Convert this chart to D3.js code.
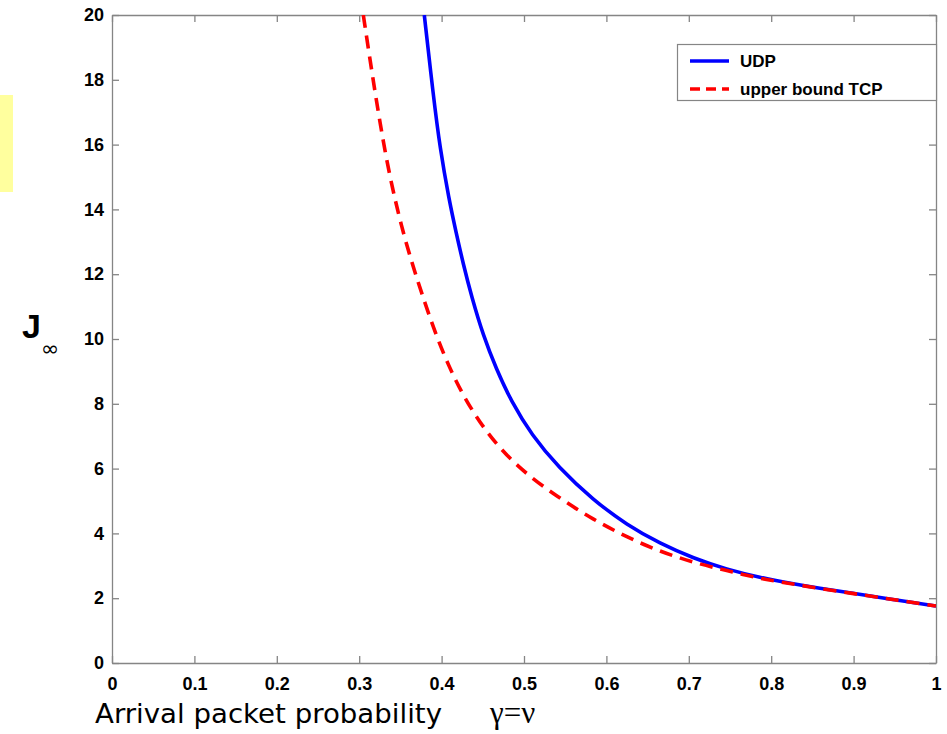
<!DOCTYPE html>
<html>
<head>
<meta charset="utf-8">
<script src="https://cdn.jsdelivr.net/npm/d3@7"></script>
<style>
  html, body { margin: 0; padding: 0; background: #fff; }
  svg { display: block; }
</style>
</head>
<body>
<svg id="chart" width="947" height="734"></svg>
<script>
// Arrival probability (gamma = nu) and the resulting cost J_inf
const udpGamma = [0.379, 0.390, 0.398, 0.409, 0.4175, 0.4264, 0.4365, 0.4506, 0.466, 0.485, 0.509, 0.542, 0.584, 0.625, 0.665, 0.706, 0.746, 0.786, 0.827, 0.857, 0.9, 0.95, 1.0];
const udpJ     = [20, 17.5, 15.9, 14.3, 13.3, 12.3, 11.3, 10.1, 9.1, 8.05, 7.05, 6.03, 5.03, 4.26, 3.69, 3.23, 2.89, 2.64, 2.44, 2.31, 2.15, 1.95, 1.76];

const tcpGamma = [0.305, 0.315, 0.325, 0.337, 0.352, 0.364, 0.376, 0.392, 0.408, 0.426, 0.453, 0.491, 0.542, 0.584, 0.625, 0.665, 0.706, 0.746, 0.786, 0.827, 0.9, 0.95, 1.0];
const tcpJ     = [20, 18.3, 16.7, 15.0, 13.4, 12.35, 11.4, 10.2, 9.2, 8.25, 7.15, 6.05, 5.1, 4.43, 3.88, 3.44, 3.10, 2.85, 2.61, 2.43, 2.14, 1.95, 1.76];

const xTicks = [0, 0.1, 0.2, 0.3, 0.4, 0.5, 0.6, 0.7, 0.8, 0.9, 1];
const xTickLabels = ["0", "0.1", "0.2", "0.3", "0.4", "0.5", "0.6", "0.7", "0.8", "0.9", "1"];
const yTicks = [0, 2, 4, 6, 8, 10, 12, 14, 16, 18, 20];

const seriesNames = ["UDP", "upper bound TCP"];

const svg = d3.select("#chart");
const plotLeft = 112, plotRight = 936, plotTop = 15, plotBottom = 663;

const x = d3.scaleLinear().domain([0, 1]).range([plotLeft, plotRight]);
const y = d3.scaleLinear().domain([0, 20]).range([plotBottom, plotTop]);

const axisColor = "#858585";

// small highlight strip at the left edge
svg.append("rect")
  .attr("x", 0).attr("y", 95).attr("width", 13).attr("height", 97)
  .attr("fill", "#ffff9e");

// clip for curves
svg.append("clipPath").attr("id", "plotclip")
  .append("rect").attr("x", plotLeft).attr("y", plotTop)
  .attr("width", plotRight - plotLeft).attr("height", plotBottom - plotTop);

// axes on all four sides, ticks pointing inward
const tickLen = 7;
const axStyle = g => {
  g.select(".domain").attr("stroke", axisColor).attr("stroke-width", 1.3);
  g.selectAll(".tick line").attr("stroke", axisColor).attr("stroke-width", 1.3);
};

svg.append("g").attr("transform", `translate(0,${plotBottom})`)
  .call(d3.axisBottom(x).tickValues(xTicks).tickSizeInner(-tickLen).tickSizeOuter(0)
    .tickFormat((d, i) => xTickLabels[i]).tickPadding(14))
  .call(axStyle)
  .call(g => g.selectAll(".tick text")
    .attr("font-family", "Liberation Sans, Arial, sans-serif")
    .attr("font-weight", "bold").attr("font-size", 18).attr("fill", "#000"));

svg.append("g").attr("transform", `translate(0,${plotTop})`)
  .call(d3.axisTop(x).tickValues(xTicks).tickSizeInner(-tickLen).tickSizeOuter(0).tickFormat(""))
  .call(axStyle);

svg.append("g").attr("transform", `translate(${plotLeft},0)`)
  .call(d3.axisLeft(y).tickValues(yTicks).tickSizeInner(-tickLen).tickSizeOuter(0).tickPadding(8))
  .call(axStyle)
  .call(g => g.selectAll(".tick text")
    .attr("font-family", "Liberation Sans, Arial, sans-serif")
    .attr("font-weight", "bold").attr("font-size", 18).attr("fill", "#000"));

svg.append("g").attr("transform", `translate(${plotRight},0)`)
  .call(d3.axisRight(y).tickValues(yTicks).tickSizeInner(-tickLen).tickSizeOuter(0).tickFormat(""))
  .call(axStyle);

// curves
const line = d3.line().curve(d3.curveBasis)
  .x(d => x(d[0])).y(d => y(d[1]));

const plot = svg.append("g").attr("clip-path", "url(#plotclip)");

plot.append("path")
  .datum(udpGamma.map((g, i) => [g, udpJ[i]]))
  .attr("d", line)
  .attr("fill", "none").attr("stroke", "#0000ff").attr("stroke-width", 3.6);

plot.append("path")
  .datum(tcpGamma.map((g, i) => [g, tcpJ[i]]))
  .attr("d", line)
  .attr("fill", "none").attr("stroke", "#ff0000").attr("stroke-width", 3.6)
  .attr("stroke-dasharray", "13,8");

// legend
const lg = svg.append("g");
lg.append("rect")
  .attr("x", 677.5).attr("y", 44.5).attr("width", 259).attr("height", 56)
  .attr("fill", "#fff").attr("stroke", axisColor).attr("stroke-width", 1.2);
const legendRows = [
  { name: seriesNames[0], color: "#0000ff", dash: null, yy: 61 },
  { name: seriesNames[1], color: "#ff0000", dash: "10,6", yy: 89 }
];
legendRows.forEach(r => {
  lg.append("line")
    .attr("x1", 690).attr("x2", 729).attr("y1", r.yy).attr("y2", r.yy)
    .attr("stroke", r.color).attr("stroke-width", 3.6)
    .attr("stroke-dasharray", r.dash);
  lg.append("text")
    .attr("x", 740).attr("y", r.yy + 6)
    .attr("font-family", "Liberation Sans, Arial, sans-serif")
    .attr("font-weight", "bold").attr("font-size", 17)
    .text(r.name);
});

// axis titles
svg.append("text")
  .attr("x", 95).attr("y", 723)
  .attr("font-family", "DejaVu Sans, sans-serif").attr("font-size", 27)
  .attr("textLength", 347).attr("lengthAdjust", "spacingAndGlyphs")
  .text("Arrival packet probability");

svg.append("text")
  .attr("x", 490).attr("y", 723)
  .attr("font-family", "Liberation Serif, serif").attr("font-size", 31)
  .text("γ=ν");

svg.append("text")
  .attr("x", 22).attr("y", 338)
  .attr("font-family", "Liberation Sans, Arial, sans-serif")
  .attr("font-weight", "bold").attr("font-size", 34)
  .text("J");
svg.append("text")
  .attr("x", 41).attr("y", 356)
  .attr("font-family", "DejaVu Sans, sans-serif").attr("font-size", 22)
  .text("∞");
</script>
</body>
</html>
